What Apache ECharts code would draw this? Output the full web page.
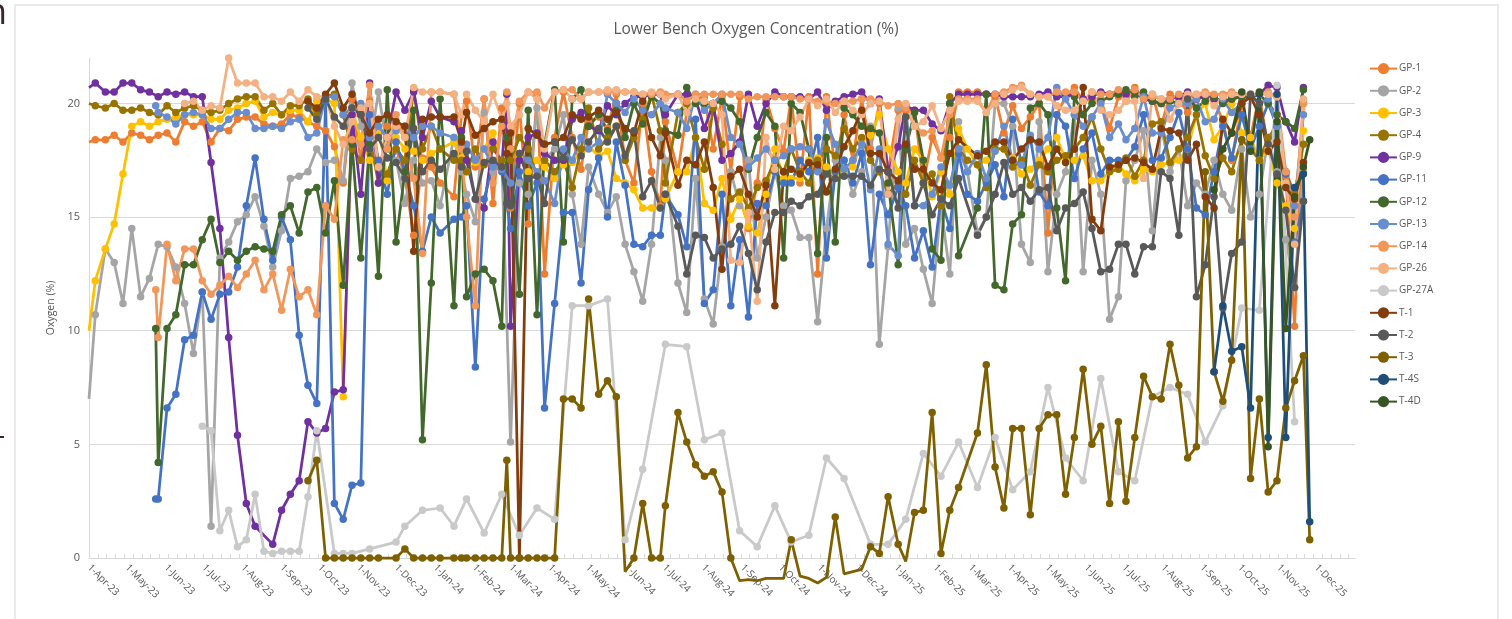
<!DOCTYPE html>
<html>
<head>
<meta charset="utf-8">
<style>html,body{margin:0;padding:0;background:#fff;overflow:hidden}#c{width:1512px;height:619px}</style>
<script src="https://cdn.jsdelivr.net/npm/echarts@6/dist/echarts.min.js"></script>
</head>
<body>
<div id="c"></div>
<script>
const _ = null;
// Monitoring rounds, in days after 1-Apr-23
const visitDays = [
0,5,13,20,27,34,41,48,53,55,
62,69,76,83,90,97,104,111,118,125,
132,139,146,153,160,167,174,181,188,195,
202,209,216,223,230,237,244,251,258,265,
272,279,290,296,300,307,314,321,328,332,
335,342,349,356,362,370,377,384,391,397,
405,412,419,426,433,440,447,454,458,468,
475,482,489,496,503,510,517,524,531,538,
545,552,558,565,572,579,586,593,600,607,
614,621,628,635,643,649,656,663,670,677,
684,691,698,706,713,720,727,734,741,748,
755,762,769,776,783,790,797,804,811,818,
824,831,838,845,852,859,866,873,880,887,
894,901,908,916,923,930,937,944,951,958,
965,970];

const GP1 = [
18.3,18.4,18.4,18.6,18.3,18.7,18.6,18.4,_,18.6,
18.7,18.3,19.2,19.0,19.2,18.3,18.9,18.8,19.3,19.4,
19.4,19.1,19.0,19.1,19.5,19.4,19.2,19.0,18.8,18.1,
16.5,20.2,17.5,20.1,18.5,19.0,18.0,16.8,14.2,17.6,
17.2,16.5,15.9,19.5,20.1,17.2,20.2,15.6,19.8,18.5,
15.4,20.0,14.7,20.4,12.5,18.5,20.5,18.5,17.1,19.2,
19.4,18.9,20.4,17.5,16.5,20.0,17.0,15.5,19.2,17.0,
19.6,20.2,20.3,18.0,20.3,17.0,20.3,14.5,16.5,20.2,
18.9,17.9,20.3,16.5,20.3,12.5,20.3,17.0,19.5,17.5,
20.2,18.0,20.0,17.0,19.7,19.7,19.7,16.5,18.5,17.6,
18.5,20.5,20.5,20.5,20.4,20.3,18.7,19.9,18.9,19.4,
20.0,14.3,19.5,20.3,20.7,20.1,20.2,20.2,18.9,20.3,
20.4,20.7,20.2,20.4,19.0,20.4,20.2,19.6,20.2,20.4,
20.2,19.2,17.5,20.0,18.5,20.4,18.0,19.5,16.8,10.2,
20.0,_];
const GP2 = [
7.0,10.7,13.6,13.0,11.2,14.5,11.5,12.3,_,13.8,
13.7,12.8,11.2,9.0,11.7,1.4,13.2,13.9,14.8,15.1,
15.9,14.6,12.8,14.4,16.7,16.8,17.0,18.0,17.4,17.5,
16.6,20.9,19.0,18.0,20.5,18.0,17.5,15.6,17.5,16.5,
16.6,15.5,18.5,17.0,16.0,14.8,19.6,17.0,17.5,_,
5.1,16.5,16.0,19.8,17.5,18.0,19.5,16.0,13.8,17.2,
16.0,15.2,15.9,13.8,12.6,11.3,13.8,18.5,17.5,12.1,
10.8,16.7,11.4,10.3,13.7,17.0,15.5,17.5,13.2,15.0,
17.0,15.5,15.3,14.1,14.1,10.4,14.5,17.5,17.5,16.0,
17.0,19.0,9.4,13.7,19.8,13.8,14.5,12.7,11.2,15.5,
12.5,19.2,17.0,14.3,15.0,20.0,20.0,19.0,13.8,13.0,
19.2,12.6,16.0,17.0,19.5,12.6,17.5,16.0,10.5,11.5,
16.6,17.5,18.8,14.4,19.0,17.0,18.0,15.5,16.5,16.0,
17.5,16.0,15.3,18.0,15.0,16.0,18.5,17.0,14.0,11.9,
17.0,_];
const GP3 = [
10.0,12.2,13.6,14.7,16.9,19.0,19.2,19.0,_,19.2,
19.3,19.4,19.5,19.5,19.5,19.3,19.3,19.7,19.8,20.0,
20.1,19.4,19.6,19.5,19.7,19.7,19.2,20.1,20.2,20.0,
7.1,19.6,18.5,17.5,19.0,16.6,18.5,18.0,17.9,17.5,
17.8,18.0,18.3,17.6,17.0,17.4,18.0,18.7,17.2,_,
18.0,17.6,17.0,17.5,17.2,16.7,17.3,17.4,17.9,18.1,
17.7,17.9,16.7,16.5,16.2,15.4,15.4,15.4,15.8,17.0,
17.0,18.5,15.6,15.3,16.7,14.9,15.8,14.6,14.3,16.0,
18.0,16.7,16.7,16.7,17.5,17.6,17.2,16.8,17.0,17.2,
18.3,18.6,19.5,18.0,17.0,16.5,18.0,17.5,15.9,17.0,
16.0,18.9,18.0,17.3,17.5,18.0,18.0,17.6,16.9,17.1,
17.5,18.0,18.5,17.5,17.5,17.7,16.6,16.6,17.0,17.3,
16.9,16.6,17.1,17.0,17.3,17.4,17.5,18.0,19.5,20.0,
18.4,19.0,20.0,18.7,18.5,17.5,18.0,16.5,15.5,14.5,
18.8,_];
const GP4 = [
20.0,19.9,19.8,20.0,19.7,19.7,19.8,19.6,_,19.5,
19.9,19.6,19.8,19.9,19.7,19.6,19.7,20.0,20.2,20.3,
20.3,19.7,20.0,19.5,19.9,19.9,20.2,19.5,20.3,20.4,
19.5,18.0,17.5,18.5,16.5,16.9,18.0,17.5,20.6,18.0,
19.0,18.0,17.5,17.5,17.0,18.0,17.3,18.0,17.5,_,
17.5,18.5,18.0,16.8,17.5,17.0,17.5,16.3,18.0,19.8,
18.0,18.5,19.0,17.5,18.5,19.3,20.4,18.8,16.5,19.6,
20.0,18.5,17.1,19.8,18.2,15.8,16.1,15.4,16.3,16.6,
17.5,17.0,18.0,17.0,16.5,17.5,18.0,17.7,18.9,18.0,
18.5,17.5,17.0,16.0,16.5,16.0,17.5,16.5,16.9,15.5,
20.3,18.0,17.5,17.3,16.3,18.0,18.0,17.2,17.5,16.4,
17.3,17.0,17.5,17.7,18.0,18.5,19.4,18.0,17.0,17.1,
17.6,16.8,17.5,19.1,19.2,17.4,18.0,18.5,19.5,17.7,
16.7,17.6,17.0,18.4,18.0,17.5,18.5,19.0,17.0,16.0,
18.2,_];
const GP9 = [
20.7,20.9,20.5,20.5,20.9,20.9,20.6,20.5,_,20.3,
20.5,20.4,20.5,20.3,20.3,17.4,14.5,9.7,5.4,2.4,
1.4,_,0.6,2.1,2.8,3.4,6.0,5.5,5.7,7.3,
7.4,19.5,16.0,20.9,16.5,18.5,20.5,19.7,20.5,18.5,
20.1,19.4,19.2,18.8,17.5,15.8,15.4,18.3,17.2,20.4,
10.2,17.5,18.5,18.7,17.8,17.5,17.5,19.3,19.6,19.0,
18.8,19.9,19.5,20.0,20.3,20.3,20.4,20.4,19.5,20.4,
20.4,20.2,18.9,20.0,17.5,17.8,18.3,20.4,19.0,20.0,
20.5,20.3,20.3,20.3,20.2,20.5,19.7,20.1,20.3,20.4,
20.5,20.0,20.2,17.0,18.1,19.9,19.7,19.7,19.1,18.8,
20.0,20.4,20.4,20.4,20.4,20.4,20.3,20.3,20.3,20.3,
20.4,20.5,20.3,20.3,20.4,20.2,20.3,20.5,20.4,20.5,
20.4,20.5,20.2,20.1,20.0,20.2,20.3,20.5,20.2,20.3,
20.2,20.1,20.2,20.3,20.3,20.4,20.8,20.7,19.2,18.3,
20.7,_];
const GP11 = [
_,_,_,_,_,_,_,_,2.6,2.6,
6.6,7.2,9.6,9.8,11.7,10.5,11.6,11.7,12.8,15.5,
17.6,14.9,13.1,15.0,14.0,9.8,7.6,6.8,20.1,2.4,
1.7,3.2,3.3,19.5,17.5,16.0,18.3,17.0,15.5,13.5,
15.0,14.3,14.9,15.0,15.5,8.4,15.8,17.3,17.0,_,
14.5,17.0,15.5,16.5,6.6,11.2,15.2,15.2,12.1,16.2,
17.6,15.0,18.3,16.4,13.8,13.7,14.2,14.2,16.0,15.1,
13.7,19.3,11.2,11.8,16.0,11.1,14.0,10.6,15.6,15.5,
17.0,16.5,16.5,17.5,17.0,18.5,13.2,17.0,17.5,16.5,
17.8,12.9,16.0,15.1,16.3,15.5,13.2,14.4,12.8,15.8,
14.5,17.8,16.0,15.7,16.5,17.3,15.9,19.3,17.3,18.5,
16.1,15.5,19.5,19.0,16.7,18.0,18.7,16.9,17.5,17.5,
17.5,18.1,19.5,17.5,17.6,18.5,19.6,18.0,15.4,15.1,
17.0,19.0,17.6,19.5,18.0,19.0,20.0,19.0,16.9,13.9,
15.7,_];
const GP12 = [
_,_,_,_,_,_,_,_,10.1,4.2,
10.1,10.7,12.9,12.9,14.0,14.9,13.0,13.5,13.1,13.5,
13.7,13.6,13.5,15.1,15.5,14.3,16.1,16.3,14.3,16.6,
12.0,18.2,13.2,18.2,12.4,20.6,13.9,17.0,19.7,5.2,
12.1,20.2,11.1,18.5,11.5,12.5,12.7,12.2,10.2,18.5,
18.0,11.6,19.7,10.7,18.2,20.6,13.9,20.2,20.6,19.0,
19.5,18.8,20.0,18.5,20.0,19.1,20.3,20.0,18.8,18.6,
20.7,20.0,20.0,20.0,20.1,19.8,19.2,17.1,18.5,19.6,
19.0,13.2,20.0,19.6,18.0,13.4,18.5,13.9,19.8,19.5,
19.0,18.9,18.7,16.5,12.9,18.0,19.6,17.5,13.6,13.1,
20.0,13.3,_,15.4,20.4,12.0,11.8,14.7,15.1,19.8,
20.0,19.5,15.4,12.2,20.3,19.5,20.0,20.1,20.3,20.4,
20.6,20.3,20.5,20.1,20.0,20.1,20.0,20.3,19.8,20.1,
20.3,20.0,20.2,20.3,20.3,20.4,20.0,19.5,19.2,18.9,
20.6,_];
const GP13 = [
_,_,_,_,_,_,_,_,19.9,19.6,
19.4,19.1,19.5,19.6,19.5,18.9,18.9,19.3,19.6,19.6,
18.9,18.9,19.0,18.9,19.2,19.3,18.5,18.7,20.3,20.3,
19.5,19.8,20.0,18.5,19.0,18.5,18.8,19.0,18.5,19.0,
19.0,18.7,18.5,18.2,18.2,17.5,18.0,17.2,17.1,_,
16.5,17.8,17.5,17.0,16.6,15.6,18.0,17.5,18.5,18.0,
18.3,20.4,20.0,19.6,20.2,19.7,19.5,20.0,19.8,19.6,
18.9,20.4,19.7,20.0,20.4,18.5,18.2,17.2,17.6,18.0,
17.5,17.7,18.0,18.1,18.0,17.0,19.2,18.2,17.1,17.5,
18.2,16.2,18.0,13.8,13.3,19.9,15.5,15.5,16.0,17.2,
16.4,18.0,17.0,17.8,16.7,17.9,19.0,17.5,17.3,18.6,
18.0,18.5,20.7,20.2,19.5,19.0,19.4,20.0,18.5,19.1,
18.4,18.9,20.3,18.7,18.7,19.8,20.0,20.0,20.2,19.2,
19.3,20.2,19.6,20.0,20.3,20.0,20.2,19.0,17.0,15.5,
19.5,_];
const GP14 = [
_,_,_,_,_,_,_,_,11.8,9.7,
13.8,12.2,13.6,13.6,12.2,11.6,12.0,12.4,11.9,12.5,
13.1,11.8,12.5,10.9,12.7,11.5,11.8,10.7,15.5,14.9,
18.4,18.4,18.2,20.8,17.2,18.0,19.5,18.5,16.7,13.4,
20.5,20.5,20.4,18.0,15.0,11.1,20.2,16.5,19.0,20.5,
18.0,20.1,20.5,20.5,19.8,20.5,20.6,20.6,20.2,20.5,
20.5,20.5,20.5,20.5,20.5,20.4,20.4,20.5,20.4,20.4,
20.1,20.4,20.4,20.4,20.4,20.4,20.4,20.2,20.3,20.3,
20.3,20.3,20.3,20.2,20.2,20.1,20.1,20.0,20.1,20.1,
20.2,20.2,20.1,19.9,20.0,19.8,19.0,18.7,18.8,17.6,
19.5,20.2,20.2,20.2,19.6,20.4,20.5,20.7,20.8,20.4,
20.3,20.3,20.5,20.5,20.5,20.1,20.5,20.4,20.4,20.6,
20.1,20.6,20.2,20.3,20.2,20.2,20.4,20.3,20.4,20.5,
20.4,20.4,20.5,20.4,20.4,20.4,20.5,20.3,17.0,15.0,
20.0,_];
const GP26 = [
_,_,_,_,_,_,_,_,_,_,
_,_,20.0,20.1,19.7,19.9,19.8,22.0,20.9,20.9,
20.9,20.3,20.3,20.1,20.5,20.1,20.6,20.3,20.3,19.0,
18.2,19.2,19.8,20.0,17.2,18.5,19.0,18.5,20.7,20.5,
20.5,20.5,20.4,19.5,20.4,19.7,19.2,20.4,19.3,20.0,
19.0,19.5,20.5,20.2,18.0,20.5,20.6,20.2,20.2,20.5,
20.5,20.6,20.6,20.5,20.5,20.4,20.5,20.4,20.2,20.4,
19.6,20.2,20.1,20.0,19.5,13.1,13.0,15.2,11.3,18.5,
17.1,19.0,18.8,19.4,20.2,19.9,20.2,19.6,20.1,19.7,
19.5,20.0,20.1,16.0,19.3,20.0,19.0,19.2,19.9,18.9,
19.7,20.1,20.1,20.1,19.6,20.0,20.4,20.6,20.7,20.4,
20.3,20.3,19.9,19.7,19.7,20.1,20.5,19.7,19.5,19.7,
20.1,20.1,16.7,20.4,20.2,19.3,20.0,20.4,20.4,20.4,
19.9,20.3,20.4,20.4,20.4,20.4,20.4,20.3,16.5,13.8,
20.2,_];
const GP27A = [
_,_,_,_,_,_,_,_,_,_,
_,_,_,_,5.8,5.6,1.2,2.1,0.5,0.8,
2.8,0.3,0.2,0.3,0.3,0.3,2.7,5.6,_,0.2,
0.2,0.2,_,0.4,_,_,0.7,1.4,_,2.1,
_,2.2,1.4,_,2.6,_,1.1,_,2.8,_,
_,1.0,_,2.2,_,1.7,_,11.1,_,11.1,
_,11.4,_,0.8,_,3.9,_,_,9.4,_,
9.3,_,5.2,_,5.5,_,1.2,_,0.5,_,
2.3,_,0.7,_,1.0,_,4.4,_,3.5,_,
_,0.6,_,0.6,_,1.7,_,4.6,_,3.6,
_,5.1,_,3.1,_,5.3,_,3.0,_,3.8,
_,7.5,_,4.4,_,3.4,_,7.9,_,3.8,
_,3.4,_,7.1,_,7.5,_,7.2,_,5.1,
_,6.7,_,11.0,_,10.9,_,20.8,_,6.0,
_,_];
const T1 = [
_,_,_,_,_,_,_,_,_,_,
_,_,_,_,_,_,_,_,_,_,
_,_,_,_,_,_,20.1,19.8,20.4,20.9,
19.8,20.4,19.5,18.7,19.3,19.5,19.2,19.0,13.5,19.3,
19.4,19.4,19.4,18.3,19.6,18.6,18.9,19.2,19.3,17.8,
18.7,0,18.9,18.6,18.2,18.3,18.5,19.5,19.3,19.4,
19.7,19.3,19.6,18.9,18.7,20.1,18.5,17.7,18.7,16.4,
17.5,17.3,18.3,16.3,12.7,16.8,17.1,16.0,15.0,16.4,
11.1,17.0,17.1,16.9,17.4,17.3,16.1,17.1,18.1,18.8,
19.7,17.8,17.8,17.0,16.6,18.2,17.1,17.1,16.5,16.2,
17.8,18.4,_,17.7,17.9,18.3,18.3,17.5,18.0,18.4,
18.3,17.2,18.0,17.4,18.0,20.7,14.9,14.4,17.2,17.3,
17.5,17.6,17.4,17.1,18.9,18.8,18.7,17.5,18.2,15.9,
15.4,19.3,18.7,20.0,20.3,19.5,17.9,18.3,16.3,15.8,
17.4,_];
const T2 = [
_,_,_,_,_,_,_,_,_,_,
_,_,_,_,_,_,_,_,_,_,
_,_,_,_,_,_,19.8,19.3,20.2,19.4,
19.0,19.8,19.5,18.0,18.5,17.6,17.4,16.7,18.9,17.0,
17.5,17.1,17.8,17.2,17.9,15.8,17.4,17.5,17.2,15.6,
15.5,17.8,16.7,16.8,15.6,18.3,17.6,18.4,17.7,18.3,
18.9,18.3,19.0,17.7,18.8,15.9,16.6,15.4,16.0,14.6,
12.5,14.2,14.1,13.2,13.6,13.8,14.6,13.4,11.8,13.9,
15.2,15.2,15.7,15.5,15.9,16.0,16.9,16.7,16.8,16.8,
16.8,16.4,17.1,17.0,15.4,19.4,15.5,16.5,15.1,15.8,
15.5,16.7,_,14.2,15.0,16.0,17.4,16.0,16.3,15.7,
16.2,16.3,14.4,15.4,15.6,16.1,14.5,12.6,12.7,13.8,
13.8,12.5,13.7,13.7,17.0,16.7,14.2,20.2,11.5,12.9,
15.9,11.0,13.4,13.9,20.4,20.0,18.2,16.9,15.3,11.9,
15.7,_];
const T3 = [
_,_,_,_,_,_,_,_,_,_,
_,_,_,_,_,_,_,_,_,_,
_,_,_,_,_,_,3.4,4.3,0,0,
0,0,0,0,0,_,0,0.4,0,0,
0,0,0,0,0,0,0,0,0,4.3,
0,0,0,0,0,0,7.0,7.0,6.6,11.4,
7.2,7.8,7.1,-0.6,0,2.4,0,0,2.3,6.4,
5.1,4.1,3.6,3.8,2.9,0,-1.0,-0.95,-1.0,-0.9,
-0.9,-0.9,0.8,-0.8,-0.9,-1.1,-0.85,1.8,-0.7,-0.6,
-0.5,0.5,0.2,2.7,0.6,-0.15,2.0,2.1,6.4,0.2,
2.1,3.1,_,5.5,8.5,4.0,2.2,5.7,5.7,1.9,
5.7,6.3,6.3,2.8,5.3,8.3,5.0,5.8,2.4,6.0,
2.5,5.3,8.0,7.1,7.0,9.4,7.6,4.4,4.9,17.0,
8.2,6.9,8.7,18.4,3.5,7.0,2.9,3.4,6.6,7.8,
8.9,0.8];
const T4S = [
_,_,_,_,_,_,_,_,_,_,
_,_,_,_,_,_,_,_,_,_,
_,_,_,_,_,_,_,_,_,_,
_,_,_,_,_,_,_,_,_,_,
_,_,_,_,_,_,_,_,_,_,
_,_,_,_,_,_,_,_,_,_,
_,_,_,_,_,_,_,_,_,_,
_,_,_,_,_,_,_,_,_,_,
_,_,_,_,_,_,_,_,_,_,
_,_,_,_,_,_,_,_,_,_,
_,_,_,_,_,_,_,_,_,_,
_,_,_,_,_,_,_,_,_,_,
_,_,_,_,_,_,_,_,_,_,
8.2,11.1,9.1,9.3,6.6,20.4,5.3,20.4,5.3,16.3,
16.9,1.6];
const T4D = [
_,_,_,_,_,_,_,_,_,_,
_,_,_,_,_,_,_,_,_,_,
_,_,_,_,_,_,_,_,_,_,
_,_,_,_,_,_,_,_,_,_,
_,_,_,_,_,_,_,_,_,_,
_,_,_,_,_,_,_,_,_,_,
_,_,_,_,_,_,_,_,_,_,
_,_,_,_,_,_,_,_,_,_,
_,_,_,_,_,_,_,_,_,_,
_,_,_,_,_,_,_,_,_,_,
_,_,_,_,_,_,_,_,_,_,
_,_,_,_,_,_,_,_,_,_,
_,_,_,_,_,_,_,_,_,_,
16.2,18.0,18.7,20.5,17.9,20.5,4.9,19.2,10.1,15.9,
17.2,18.4];

const seriesNames = ['GP-1','GP-2','GP-3','GP-4','GP-9','GP-11','GP-12','GP-13','GP-14','GP-26','GP-27A','T-1','T-2','T-3','T-4S','T-4D'];
const seriesValues = [GP1,GP2,GP3,GP4,GP9,GP11,GP12,GP13,GP14,GP26,GP27A,T1,T2,T3,T4S,T4D];
const seriesColors = ['#ED7D31','#A5A5A5','#FFC000','#997300','#7030A0','#4472C4','#43682B','#698ED0','#F1975A','#F4B183','#C9C9C9','#843C0C','#595959','#7F6000','#1F4E79','#375623'];
const yTicks = [0,5,10,15,20];

const MON = ['Jan','Feb','Mar','Apr','May','Jun','Jul','Aug','Sep','Oct','Nov','Dec'];
const DAY = 86400000;
const startUTC = Date.UTC(2023,3,1);
const dayOf = (y,m) => Math.round((Date.UTC(y,m,1)-startUTC)/DAY);
const xMax = dayOf(2026,0);
const monthTicks = [];
for (let n=0; n<33; n++) monthTicks.push(dayOf(2023,3+n));
const weekTicks = [];
for (let d=0; d<=xMax; d+=7) weekTicks.push(d);

const chart = echarts.init(document.getElementById('c'), null, {renderer:'canvas'});
const fontF = '"Open Sans","Noto Sans",sans-serif';
chart.setOption({
  animation:false,
  backgroundColor:'#fff',
  title:{text:'Lower Bench Oxygen Concentration (%)',left:'center',top:17,
    textStyle:{fontSize:15.5,fontWeight:'normal',color:'#595959',fontFamily:fontF}},
  legend:{orient:'vertical',left:1364,top:58,itemWidth:27,itemHeight:14,itemGap:11,
    data:seriesNames,selectedMode:false,
    textStyle:{fontSize:10,color:'#595959',fontFamily:fontF,padding:[0,0,0,-3]}},
  grid:{left:89,right:157,top:58,bottom:61,containLabel:false},
  xAxis:{type:'value',min:0,max:xMax,scale:false,
    axisLine:{lineStyle:{color:'#D9D9D9',width:1}},
    axisTick:{show:true,inside:true,length:4,customValues:weekTicks,lineStyle:{color:'#D9D9D9'}},
    splitLine:{show:false},minorTick:{show:false},
    axisLabel:{customValues:monthTicks,rotate:-45,margin:8,fontSize:10,color:'#595959',fontFamily:fontF,
      hideOverlap:false,showMinLabel:true,showMaxLabel:true,
      formatter:v=>{const t=new Date(startUTC+v*DAY);return t.getUTCDate()+'-'+MON[t.getUTCMonth()]+'-'+String(t.getUTCFullYear()).slice(2);}}},
  yAxis:{type:'value',min:0,max:22,interval:5,
    name:'Oxygen (%)',nameLocation:'middle',nameGap:28,nameRotate:90,
    nameTextStyle:{fontSize:10.5,color:'#595959',fontFamily:fontF},
    axisLine:{show:true,lineStyle:{color:'#D9D9D9',width:1}},
    axisTick:{show:false,customValues:yTicks},
    splitLine:{show:true,lineStyle:{color:'#D9D9D9',width:1}},
    axisLabel:{customValues:yTicks,fontSize:11,color:'#595959',fontFamily:fontF,margin:9}},
  series:seriesNames.map((name,i)=>({
    name,type:'line',clip:false,showSymbol:true,showAllSymbol:true,connectNulls:true,
    symbol:'circle',
    symbolSize:v=>(v[0]===0||v[1]<0)?0:7.5,
    itemStyle:{color:seriesColors[i]},
    lineStyle:{color:seriesColors[i],width:2.75},
    emphasis:{disabled:true},
    data:visitDays.map((d,j)=>[d,seriesValues[i][j]]).filter(p=>p[1]!==null)
  })),
  graphic:[
    {type:'rect',shape:{x:15,y:5,width:1483,height:640},style:{fill:'none',stroke:'#E3E3E3',lineWidth:1.5},silent:true,z:-10},
    {type:'text',x:-15,y:-4,style:{text:'n',font:'36px "Open Sans"',fill:'#3A2430'},silent:true},
    {type:'rect',shape:{x:0,y:436,width:4,height:2},style:{fill:'#3A2430'},silent:true}
  ]
});
</script>
</body>
</html>
